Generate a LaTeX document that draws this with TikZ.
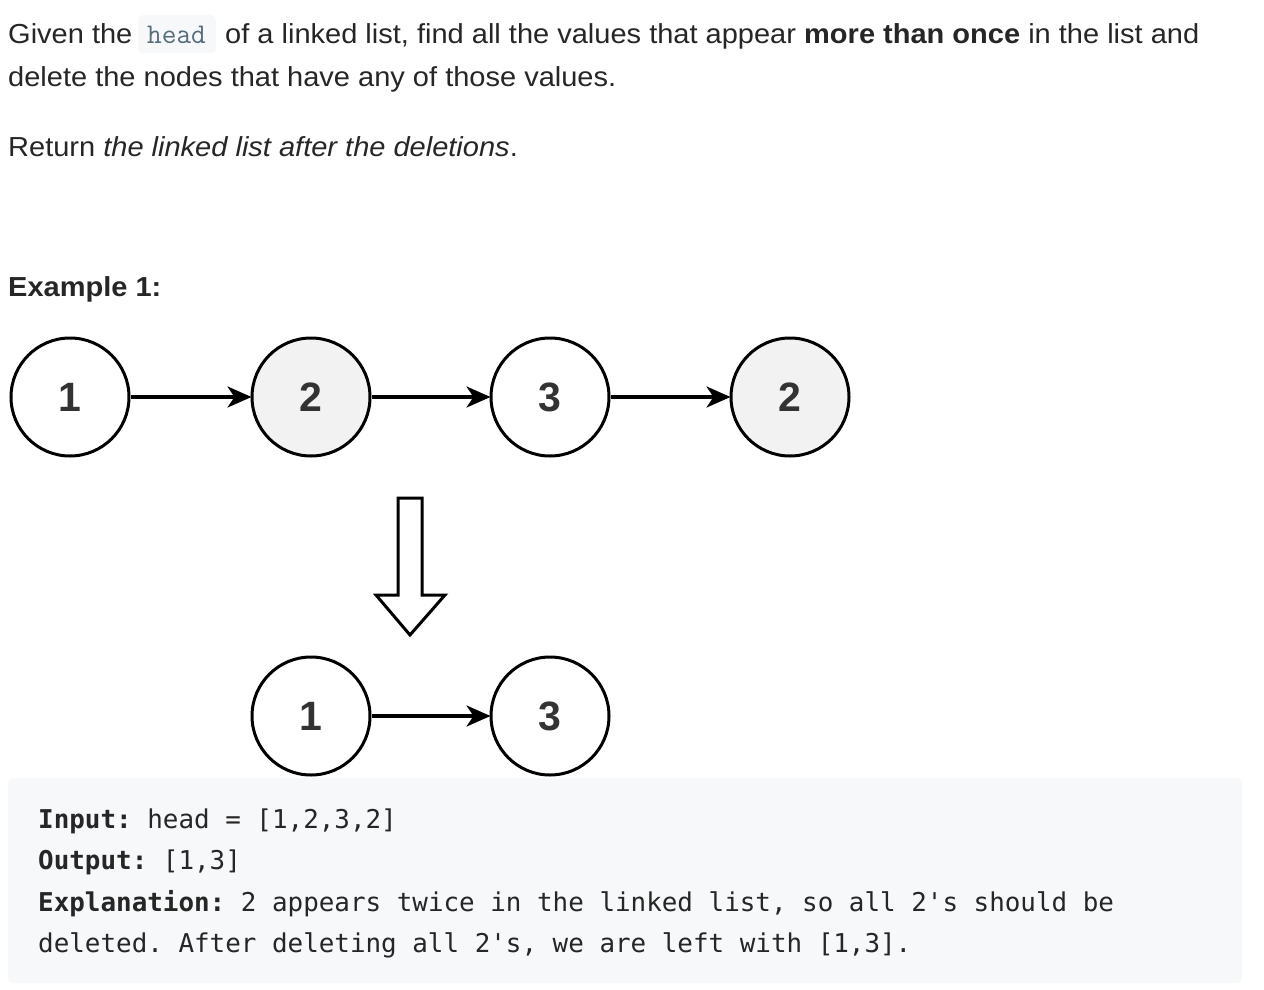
\documentclass[tikz,border=0pt]{standalone}
\usepackage{fontspec}
\setmainfont{Liberation Sans}
\newfontfamily\codefont{DejaVu Sans Mono}
\newfontfamily\inlinecode{Latin Modern Mono}
\newfontfamily\digitfont{Liberation Sans}
\usetikzlibrary{arrows.meta}
\definecolor{txt}{HTML}{262626}
\definecolor{codebg}{HTML}{F7F8FA}
\definecolor{inl}{HTML}{546E7A}
\definecolor{nodegray}{HTML}{F2F2F2}
\definecolor{dig}{HTML}{333333}
\tikzset{
  listnode/.style={circle, draw=black, line width=3pt, minimum size=118pt, inner sep=0pt, fill=white,
    font=\digitfont\bfseries\fontsize{41}{44}\selectfont, text=dig},
  dupnode/.style={listnode, fill=nodegray},
  link/.style={line width=3.3pt, -{Stealth[length=24pt,width=21pt,inset=7pt]}, shorten >=-1pt},
  para/.style={anchor=base west, inner sep=0pt, text=txt, font=\fontsize{27.5}{30}\selectfont, xscale=1.055, transform shape},
  codeline/.style={anchor=base west, inner sep=0pt, text=txt, font=\codefont\fontsize{25.9}{30}\selectfont\frenchspacing},
}
\begin{document}
\begin{tikzpicture}[x=1pt,y=-1pt]
\useasboundingbox (0,0) rectangle (1264,990);
\fill[white] (0,0) rectangle (1264,990);
% text
\fill[codebg, rounded corners=5pt] (138,15) rectangle (216,53);
\node[para] (t1a) at (8,44) {Given the};
\node[anchor=base west, inner sep=0pt, text=inl, font=\inlinecode\fontsize{28.5}{30}\selectfont] (t1b) at (147,44) {head};
\node[para] (t1c) at (225,44) {of a linked list, find all the values that appear \textbf{more than once} in the list and};
\node[para] (t2) at (8,86) {delete the nodes that have any of those values.};
\node[para] (t3) at (8,156) {Return \textit{the linked list after the deletions}.};
\node[para, font=\bfseries\fontsize{27.5}{30}\selectfont] (ex) at (8,296) {Example 1:};
% code box
\fill[codebg, rounded corners=6pt] (8,778) rectangle (1242,983);
\node[codeline] (c1) at (38,828) {\textbf{Input:} head = [1,2,3,2]};
\node[codeline] (c2) at (38,869) {\textbf{Output:} [1,3]};
\node[codeline] (c3) at (38,911) {\textbf{Explanation:} 2 appears twice in the linked list, so all 2's should be};
\node[codeline] (c4) at (38,952) {deleted. After deleting all 2's, we are left with [1,3].};
% top list
\node[listnode] (a1) at (70,397) {1};
\node[dupnode] (a2) at (311,397) {2};
\node[listnode] (a3) at (550,397) {3};
\node[dupnode] (a4) at (790,397) {2};
\draw[link] (a1) -- (a2);
\draw[link] (a2) -- (a3);
\draw[link] (a3) -- (a4);
% hollow arrow
\draw[line width=3pt, fill=white, line join=miter]
  (398,498) -- (422,498) -- (422,595) -- (445,595) -- (410,635) -- (376,595) -- (398,595) -- cycle;
% bottom list
\node[listnode] (b1) at (311,716) {1};
\node[listnode] (b3) at (550,716) {3};
\draw[link] (b1) -- (b3);
\end{tikzpicture}
\end{document}
